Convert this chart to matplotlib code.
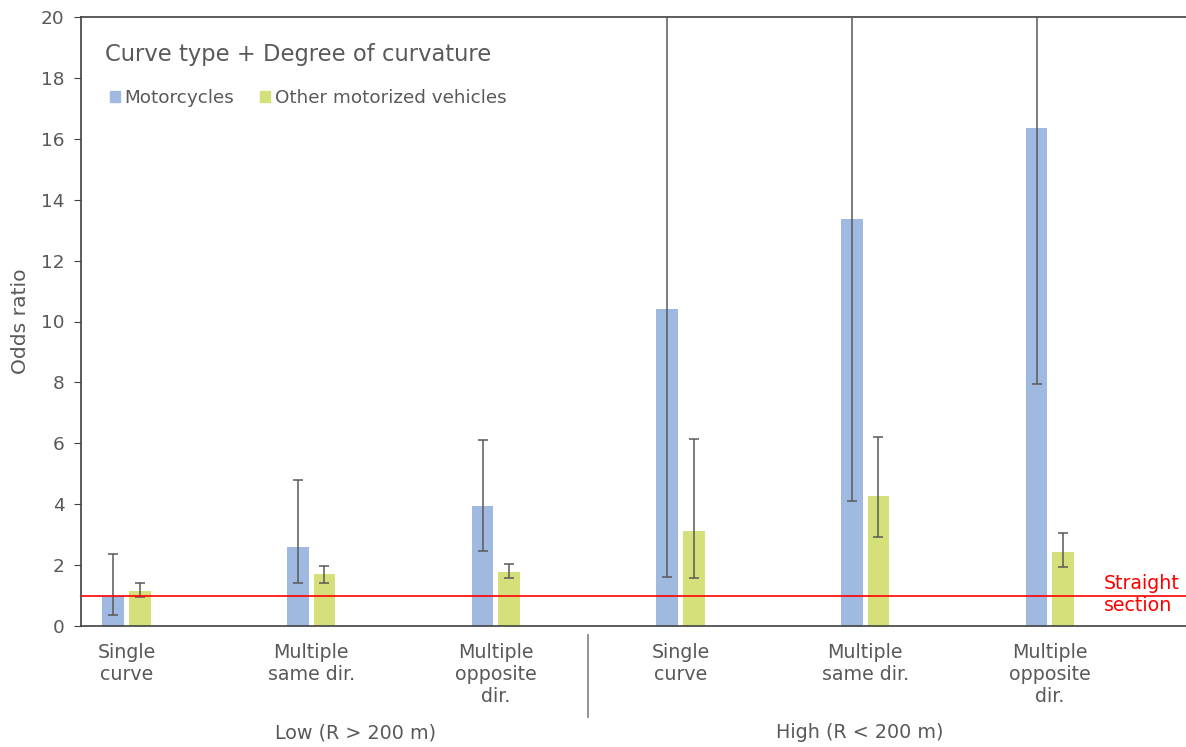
import numpy as np
import matplotlib.pyplot as plt
from matplotlib.patches import Patch

# odds ratios with 95% CI
categories = ['Single\ncurve', 'Multiple\nsame dir.', 'Multiple\nopposite\ndir.',
              'Single\ncurve', 'Multiple\nsame dir.', 'Multiple\nopposite\ndir.']
groups = ['Low (R > 200 m)', 'High (R < 200 m)']

moto = [0.97, 2.60, 3.94, 10.41, 13.37, 16.34]
moto_lo = [0.35, 1.41, 2.47, 1.61, 4.12, 7.96]
moto_hi = [2.35, 4.78, 6.12, 67.0, 43.0, 33.5]

other = [1.15, 1.71, 1.78, 3.11, 4.28, 2.44]
other_lo = [0.94, 1.41, 1.58, 1.57, 2.93, 1.93]
other_hi = [1.40, 1.96, 2.05, 6.15, 6.21, 3.05]

blue = '#A0B9E0'
green = '#D6E07A'
grey = '#595959'

fig = plt.figure(figsize=(11.86, 7.47), dpi=100)
ax = fig.add_axes([81 / 1186, 1 - 626 / 747, 1 - 81 / 1186, (626 - 17) / 747])

x = np.arange(len(categories))
w = 0.118
off = 0.072

moto = np.array(moto)
other = np.array(other)
ax.bar(x - off, moto, w, color=blue, zorder=2)
ax.bar(x + off, other, w, color=green, zorder=2)

ekw = dict(fmt='none', ecolor=grey, elinewidth=1.1, capsize=3.6, capthick=1.1, zorder=3)
ax.errorbar(x - off, moto, yerr=[moto - np.array(moto_lo), np.array(moto_hi) - moto], **ekw)
ax.errorbar(x + off, other, yerr=[other - np.array(other_lo), np.array(other_hi) - other], **ekw)

# reference line: straight section (OR = 1)
ax.axhline(1, color='red', lw=1.2, zorder=4)
ax.text(5.29, 1.02, 'Straight\nsection', color='red', fontsize=13.7, va='center', ha='left',
        linespacing=1.2)

ax.set_xlim(-0.246, 5.737)
ax.set_ylim(0, 20)
ax.set_yticks(range(0, 21, 2))
ax.set_ylabel('Odds ratio', fontsize=14.6, color=grey, labelpad=8)
ax.tick_params(axis='y', direction='out', length=5, colors='#404040', labelcolor=grey,
               labelsize=13.3, pad=7)
ax.set_xticks(x)
ax.set_xticklabels(categories, fontsize=13.7, color=grey, linespacing=1.22)
ax.tick_params(axis='x', length=0, pad=12)

for s in ['left', 'bottom', 'top']:
    ax.spines[s].set_color('#404040')
    ax.spines[s].set_linewidth(1.2)
ax.spines['right'].set_visible(False)

# group divider and group labels
trans = ax.get_xaxis_transform()
ax.plot([2.5, 2.5], [-0.015, -0.149], color='#808080', lw=1.2, transform=trans, clip_on=False)
ax.text(1.24, -0.175, groups[0], transform=trans, ha='center', va='center', fontsize=13.8, color=grey)
ax.text(3.97, -0.175, groups[1], transform=trans, ha='center', va='center', fontsize=13.8, color=grey)

# legend
fig.text(105 / 1186, 1 - 55 / 747, 'Curve type + Degree of curvature', fontsize=16.3,
         color=grey, va='center', ha='left')
handles = [Patch(color=blue, label='Motorcycles'), Patch(color=green, label='Other motorized vehicles')]
leg = ax.legend(handles=handles, ncol=2, frameon=False, loc='center left',
                bbox_to_anchor=(110 / 1186, 1 - 98 / 747), bbox_transform=fig.transFigure,
                fontsize=13.2, handlelength=0.55, handleheight=0.6, handletextpad=0.25,
                columnspacing=1.4, borderpad=0, borderaxespad=0)
for t in leg.get_texts():
    t.set_color(grey)

fig.savefig('out.png', dpi=100)
